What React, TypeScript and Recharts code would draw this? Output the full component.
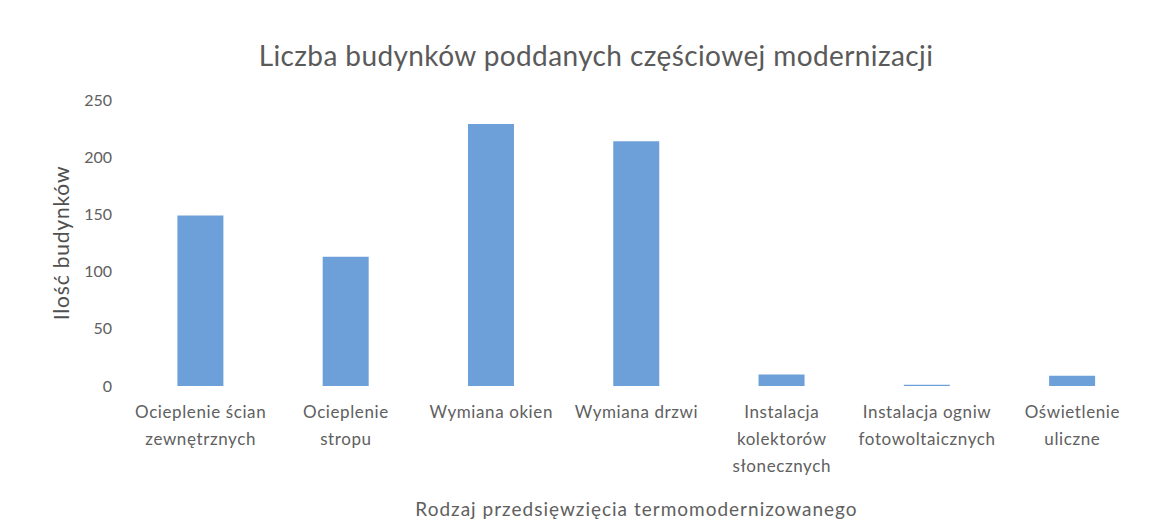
import React from "react";
import { BarChart, Bar, XAxis, YAxis } from "recharts";

const categories: string[][] = [
  ["Ocieplenie ścian", "zewnętrznych"],
  ["Ocieplenie", "stropu"],
  ["Wymiana okien"],
  ["Wymiana drzwi"],
  ["Instalacja", "kolektorów", "słonecznych"],
  ["Instalacja ogniw", "fotowoltaicznych"],
  ["Oświetlenie", "uliczne"],
];
const values: number[] = [149, 113, 229, 214, 10, 1, 9];
const yTicks: number[] = [0, 50, 100, 150, 200, 250];

const title = "Liczba budynków poddanych częściowej modernizacji";
const yTitle = "Ilość budynków";
const xTitle = "Rodzaj przedsięwzięcia termomodernizowanego";

const data = categories.map((c, i) => ({ name: c.join("\n"), value: values[i] }));

const FONT = "Lato, 'Open Sans', sans-serif";
const TEXT = "#606060";

const XTick = (props: any) => {
  const { x, y, payload } = props;
  const lines = String(payload.value).split("\n");
  return (
    <text x={x} y={y} textAnchor="middle" fill={TEXT} fontFamily={FONT} fontSize={17} letterSpacing={0.6}>
      {lines.map((l, i) => (
        <tspan key={i} x={x} dy={i === 0 ? 24 : 27}>
          {l}
        </tspan>
      ))}
    </text>
  );
};

export default function App() {
  return (
    <div style={{ position: "absolute", left: 0, top: 0, width: 1155, height: 524, background: "#fff" }}>
      <div
        style={{
          position: "absolute",
          left: 0,
          top: 37,
          width: 1192,
          textAlign: "center",
          fontFamily: FONT,
          fontSize: 28,
          letterSpacing: 0.4,
          color: "#5a5a5a",
          lineHeight: "36px",
        }}
      >
        {title}
      </div>
      <BarChart
        width={1155}
        height={524}
        data={data}
        margin={{ top: 100, right: 10, bottom: 0, left: 0 }}
        barCategoryGap="34%"
      >
        <XAxis
          dataKey="name"
          axisLine={false}
          tickLine={false}
          interval={0}
          height={138}
          tick={<XTick />}
          label={{
            value: xTitle,
            position: "insideBottom",
            offset: 8,
            fill: TEXT,
            fontFamily: FONT,
            fontSize: 19,
            letterSpacing: 1,
          }}
        />
        <YAxis
          domain={[0, 250]}
          ticks={yTicks}
          width={128}
          axisLine={false}
          tickLine={false}
          tickMargin={10}
          tick={{ fill: TEXT, fontFamily: FONT, fontSize: 16 }}
          label={{
            value: yTitle,
            angle: -90,
            position: "center",
            dx: -2,
            fill: "#505050",
            fontFamily: FONT,
            fontSize: 21,
            letterSpacing: 0.8,
          }}
        />
        <Bar dataKey="value" fill="#6d9fd8" isAnimationActive={false} />
      </BarChart>
    </div>
  );
}
